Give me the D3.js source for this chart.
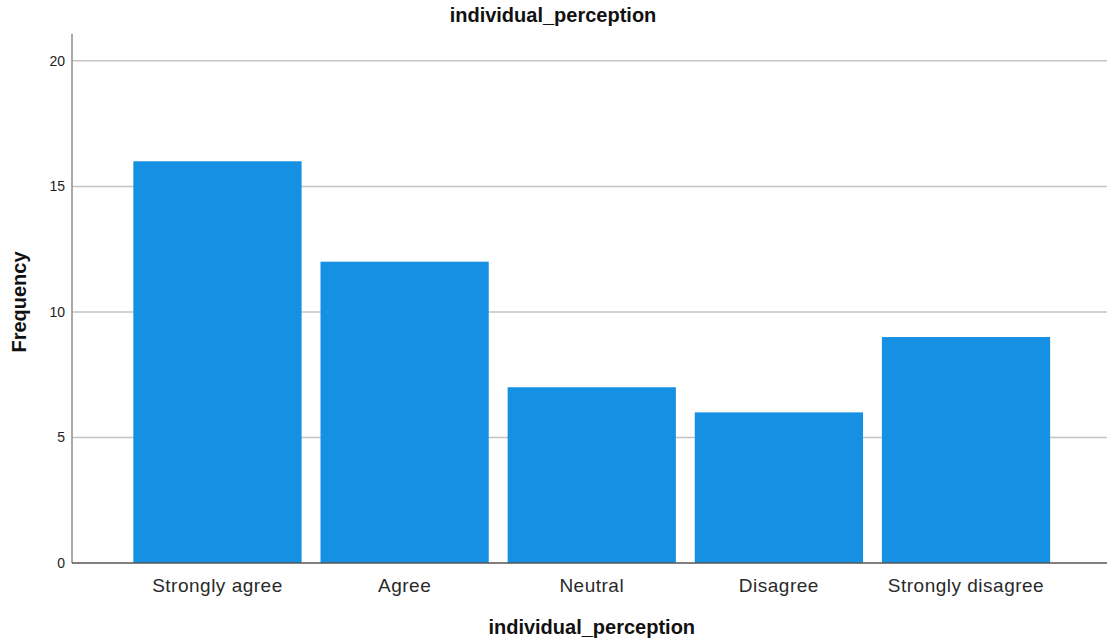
<!DOCTYPE html>
<html>
<head>
<meta charset="utf-8">
<script src="https://cdn.jsdelivr.net/npm/d3@7"></script>
<style>
body { margin: 0; background: #fff; }
svg { display: block; font-family: Arial, "Liberation Sans", sans-serif; }
.grid line { stroke: #c4c4c4; stroke-width: 1.5; }
.yLabel { font-size: 14px; fill: #222; }
.xLabel { font-size: 19px; fill: #2a2a2a; letter-spacing: 0.5px; }
.title { font-size: 20px; font-weight: bold; fill: #111; }
</style>
</head>
<body>
<div id="vis"></div>
<script>
// chart data
var categories = ['Strongly agree', 'Agree', 'Neutral', 'Disagree', 'Strongly disagree'],
    counts = [16, 12, 7, 6, 9],
    yTicks = [0, 5, 10, 15, 20];

var w = 1107,
    h = 642,
    axisX = 72,
    topY = 34,
    baseY = 563;

var x = d3.scaleBand().domain(categories).range([124, 1059.5]).paddingInner(0.101).paddingOuter(0.05),
    y = d3.scaleLinear().domain([0, 21.07]).range([baseY, topY]);

var vis = d3.select("#vis")
            .append("svg")
            .attr("width", w)
            .attr("height", h);

// title
vis.append("text")
   .attr("class", "title")
   .attr("x", 553)
   .attr("y", 22)
   .attr("text-anchor", "middle")
   .text("individual_perception");

// grid lines
vis.append("g")
   .attr("class", "grid")
   .selectAll("line")
   .data(yTicks.filter(function(d) { return d > 0; }))
   .enter()
   .append("line")
   .attr("x1", axisX)
   .attr("x2", w)
   .attr("y1", function(d) { return y(d); })
   .attr("y2", function(d) { return y(d); });

// bars
vis.selectAll(".bar")
   .data(counts)
   .enter()
   .append("rect")
   .attr("class", "bar")
   .attr("x", function(d, i) { return x(categories[i]); })
   .attr("width", x.bandwidth())
   .attr("y", function(d) { return y(d); })
   .attr("height", function(d) { return baseY - y(d); })
   .attr("fill", "#1590e3");

// axes
vis.append("line")
   .attr("x1", axisX).attr("x2", axisX)
   .attr("y1", topY).attr("y2", baseY)
   .attr("stroke", "#8c8c8c").attr("stroke-width", 1.5);

vis.append("line")
   .attr("x1", axisX).attr("x2", w)
   .attr("y1", baseY).attr("y2", baseY)
   .attr("stroke", "#555").attr("stroke-width", 1.3);

// y tick labels
vis.selectAll(".yLabel")
   .data(yTicks)
   .enter()
   .append("text")
   .attr("class", "yLabel")
   .attr("x", axisX - 7)
   .attr("y", function(d) { return y(d); })
   .attr("dy", 5)
   .attr("text-anchor", "end")
   .text(String);

// x category labels
vis.selectAll(".xLabel")
   .data(categories)
   .enter()
   .append("text")
   .attr("class", "xLabel")
   .attr("x", function(d) { return x(d) + x.bandwidth() / 2; })
   .attr("y", 592)
   .attr("text-anchor", "middle")
   .text(String);

// axis titles
vis.append("text")
   .attr("class", "title")
   .attr("x", (x.range()[0] + x.range()[1]) / 2)
   .attr("y", 634)
   .attr("text-anchor", "middle")
   .text("individual_perception");

vis.append("text")
   .attr("class", "title")
   .attr("transform", "translate(26,302) rotate(-90)")
   .attr("text-anchor", "middle")
   .text("Frequency");
</script>
</body>
</html>
